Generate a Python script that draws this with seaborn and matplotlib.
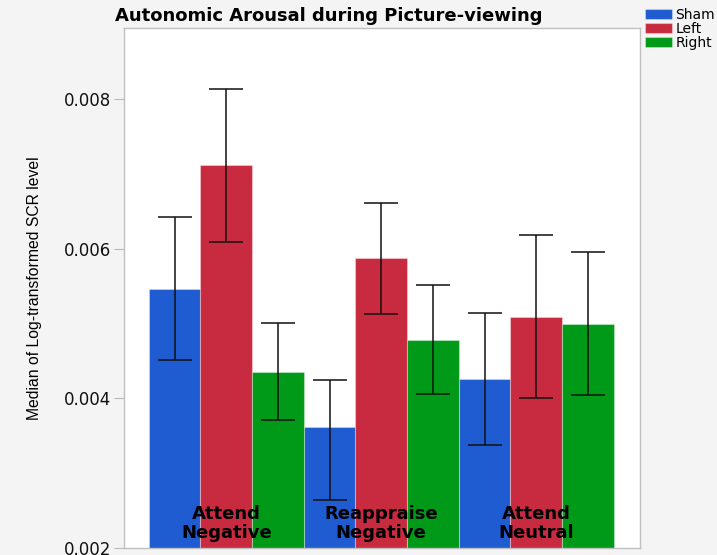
import seaborn as sns
import matplotlib.pyplot as plt
import pandas as pd
import numpy as np

sns.set_theme(style="white")
plt.rcParams['font.family'] = ['DejaVu Sans']
plt.rcParams['text.color'] = 'black'

# values
conditions = ["Attend\nNegative", "Reappraise\nNegative", "Attend\nNeutral"]
groups = ["Sham", "Left", "Right"]
sham = [0.005465, 0.003619, 0.004261]
left = [0.007124, 0.005880, 0.005090]
right = [0.004355, 0.004783, 0.004997]
sham_hi = [0.006428, 0.004247, 0.005144]
sham_lo = [0.004515, 0.002642, 0.003378]
left_hi = [0.008140, 0.006615, 0.006187]
left_lo = [0.006094, 0.005130, 0.004007]
right_hi = [0.005010, 0.005518, 0.005960]
right_lo = [0.003712, 0.004060, 0.004047]

colors = ["#1f5bd1", "#c82a40", "#009a18"]

df = pd.DataFrame({
    "cond": conditions * 3,
    "grp": [g for g in groups for _ in conditions],
    "val": sham + left + right,
})

f = plt.figure(figsize=(7.17, 5.55), dpi=100, facecolor="#f4f4f4")
ax = f.add_axes([0.173, 0.0126, 0.7196, 0.937])
ax.set_facecolor("white")

sns.barplot(data=df, x="cond", y="val", hue="grp", palette=colors,
            width=1.0, errorbar=None, ax=ax, edgecolor="#ffffff55",
            linewidth=0.8, saturation=1)

# asymmetric error bars at the bar centres
his = [sham_hi, left_hi, right_hi]
los = [sham_lo, left_lo, right_lo]
vals = [sham, left, right]
bars = list(ax.containers)
for i, cont in enumerate(bars):
    xs = [p.get_x() + p.get_width() / 2 for p in cont]
    v = np.array(vals[i])
    yerr = [v - np.array(los[i]), np.array(his[i]) - v]
    ax.errorbar(xs, v, yerr=yerr, fmt="none", ecolor="#111111",
                elinewidth=1.1, capsize=12, capthick=1.1)

ax.set_ylim(0.002, 0.00895)
ax.set_xlim(-0.66, 2.67)
ax.set_yticks([0.002, 0.004, 0.006, 0.008])
ax.set_yticklabels(["0.002", "0.004", "0.006", "0.008"])
ax.set_xticks([])
ax.set_xlabel("")
ax.set_ylabel("Median of Log-transformed SCR level", fontsize=11.3,
              family=["Liberation Sans", "DejaVu Sans"], labelpad=16,
              color="black")
ax.tick_params(axis="y", left=True, length=7, width=0.8, color="#bbbbbb",
               labelsize=12, pad=2, labelcolor="#111111")
for s in ax.spines.values():
    s.set_color("#c0c0c0")
    s.set_linewidth(1.0)

for i, c in enumerate(conditions):
    ax.text(i, 0.00208, c, ha="center", va="bottom", fontsize=13,
            fontweight="bold", linespacing=1.1, color="black")

f.text(0.459, 0.971, "Autonomic Arousal during Picture-viewing",
       ha="center", va="center", fontsize=13, fontweight="bold",
       color="black")

ax.legend(loc="upper left", bbox_to_anchor=(0.899, 0.986),
          bbox_transform=f.transFigure, frameon=False, fontsize=10,
          handlelength=1.95, handleheight=0.72, handletextpad=0.25,
          labelspacing=0.0, borderaxespad=0, borderpad=0, title=None)

f.savefig("out.png", dpi=100, facecolor=f.get_facecolor())
